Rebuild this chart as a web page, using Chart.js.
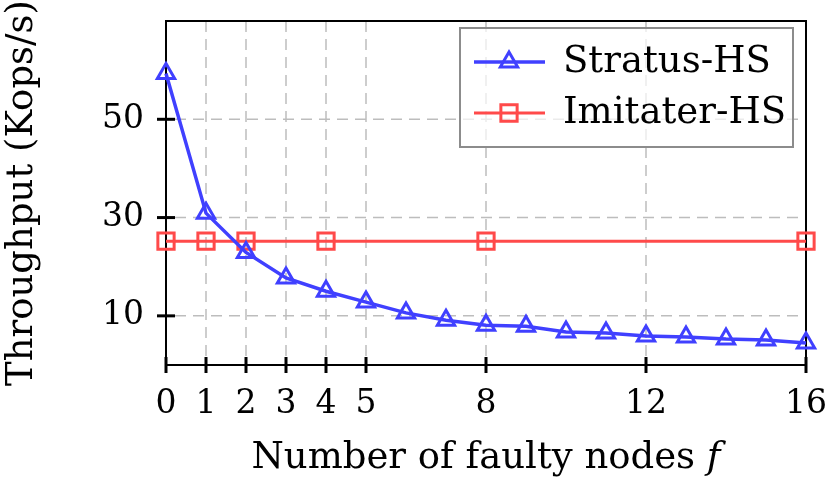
<!DOCTYPE html>
<html>
<head>
<meta charset="utf-8">
<script src="https://cdn.jsdelivr.net/npm/chart.js@4"></script>
<style>
    html, body { margin: 0; padding: 0; background: #fff; }
    #wrap { width: 825px; height: 480px; }
</style>
</head>
<body>
<div id="wrap"><canvas id="chart"></canvas></div>
<script>
// values
const faultyNodes = [0, 1, 2, 3, 4, 5, 6, 7, 8, 9, 10, 11, 12, 13, 14, 15, 16];
const stratusHS = [59.3, 30.9, 22.9, 17.7, 15.0, 12.8, 10.6, 9.1, 8.1, 7.9, 6.7, 6.5, 5.9, 5.7, 5.3, 5.1, 4.5];
const imitaterNodes = [0, 1, 2, 4, 8, 16];
const imitaterHS = [25.2, 25.2, 25.2, 25.2, 25.2, 25.2];
const xTicks = [0, 1, 2, 3, 4, 5, 8, 12, 16];
const yTicks = [10, 30, 50];

const FONT = 'DejaVu Serif';
const FSIZE = 37;
const TICKSIZE = 33;
const BLUE = '#4040ff';
const RED = '#ff4a4a';

function toPoints(xs, ys) {
    return xs.map((x, i) => ({ x: x, y: ys[i] }));
}

function markerPath(ctx, style, x, y, r) {
    ctx.beginPath();
    if (style === 'triangle') {
        ctx.moveTo(x, y - r);
        ctx.lineTo(x + r * Math.sin(Math.PI / 3), y + r / 2);
        ctx.lineTo(x - r * Math.sin(Math.PI / 3), y + r / 2);
        ctx.closePath();
    } else {
        const s = r * Math.SQRT1_2;
        ctx.rect(x - s, y - s, 2 * s, 2 * s);
    }
}

// grid, frame and crossing tick marks
const framePlugin = {
    id: 'frame',
    beforeDatasetsDraw(chart) {
        const { ctx, chartArea: a, scales } = chart;
        ctx.save();
        ctx.strokeStyle = '#bdbdbd';
        ctx.lineWidth = 1.5;
        ctx.setLineDash([11, 7]);
        scales.x.ticks.forEach(t => {
            if (t.value === 0 || t.value === 16) return;
            const px = scales.x.getPixelForValue(t.value);
            ctx.beginPath();
            ctx.moveTo(px, a.top);
            ctx.lineTo(px, a.bottom - 9);
            ctx.stroke();
        });
        scales.y.ticks.forEach(t => {
            const py = scales.y.getPixelForValue(t.value);
            ctx.beginPath();
            ctx.moveTo(a.left + 9, py);
            ctx.lineTo(a.right, py);
            ctx.stroke();
        });
        ctx.setLineDash([]);
        ctx.strokeStyle = '#000';
        ctx.lineWidth = 2;
        ctx.strokeRect(a.left, a.top, a.right - a.left, a.bottom - a.top);
        ctx.lineWidth = 3;
        scales.x.ticks.forEach(t => {
            const px = scales.x.getPixelForValue(t.value);
            ctx.beginPath();
            ctx.moveTo(px, a.bottom - 8);
            ctx.lineTo(px, a.bottom + 8);
            ctx.stroke();
        });
        scales.y.ticks.forEach(t => {
            const py = scales.y.getPixelForValue(t.value);
            ctx.beginPath();
            ctx.moveTo(a.left - 9, py);
            ctx.lineTo(a.left + 9, py);
            ctx.stroke();
        });
        ctx.restore();
    },
    afterDraw(chart) {
        const { ctx, chartArea: a } = chart;
        ctx.save();
        // x axis title with italic f
        const normal = FSIZE + 'px "' + FONT + '"';
        const italic = 'italic ' + normal;
        const t1 = 'Number of faulty nodes ';
        const t2 = 'f';
        ctx.font = normal;
        const w1 = ctx.measureText(t1).width;
        ctx.font = italic;
        const w2 = ctx.measureText(t2).width;
        let x0 = (a.left + a.right) / 2 - (w1 + w2) / 2;
        ctx.fillStyle = '#000';
        ctx.textBaseline = 'alphabetic';
        ctx.textAlign = 'left';
        ctx.font = normal;
        ctx.fillText(t1, x0, 468);
        ctx.font = italic;
        ctx.fillText(t2, x0 + w1, 468);

        // legend box
        const bx = a.right - 346, by = a.top + 7, bw = 333, bh = 119;
        ctx.fillStyle = 'rgba(255,255,255,0.7)';
        ctx.fillRect(bx, by, bw, bh);
        ctx.strokeStyle = '#8c8c8c';
        ctx.lineWidth = 2;
        ctx.strokeRect(bx, by, bw, bh);
        chart.data.datasets.forEach((ds, i) => {
            const cy = by + 34 + i * 51;
            ctx.strokeStyle = ds.borderColor;
            ctx.lineWidth = ds.borderWidth;
            ctx.beginPath();
            ctx.moveTo(bx + 14, cy);
            ctx.lineTo(bx + 85, cy);
            ctx.stroke();
            ctx.lineWidth = ds.pointBorderWidth;
            markerPath(ctx, ds.pointStyle, bx + 49, cy, ds.pointRadius);
            ctx.stroke();
            ctx.fillStyle = '#000';
            ctx.font = normal;
            ctx.textBaseline = 'middle';
            ctx.fillText(ds.label, bx + 103, cy);
        });
        ctx.restore();
    }
};

const ctx = document.getElementById('chart').getContext('2d');
new Chart(ctx, {
    type: 'line',
    data: {
        datasets: [
            {
                label: 'Stratus-HS',
                data: toPoints(faultyNodes, stratusHS),
                borderColor: BLUE,
                borderWidth: 3.5,
                pointStyle: 'triangle',
                pointRadius: 10,
                pointBorderWidth: 3,
                pointBorderColor: BLUE,
                pointBackgroundColor: 'rgba(0,0,0,0)',
                tension: 0,
                clip: 20,
            },
            {
                label: 'Imitater-HS',
                data: toPoints(imitaterNodes, imitaterHS),
                borderColor: RED,
                borderWidth: 3,
                pointStyle: 'rect',
                pointRadius: 11.5,
                pointBorderWidth: 3,
                pointBorderColor: RED,
                pointBackgroundColor: 'rgba(0,0,0,0)',
                tension: 0,
                clip: 20,
            },
        ],
    },
    options: {
        responsive: true,
        maintainAspectRatio: false,
        animation: false,
        layout: { padding: { top: 21, right: 19, left: 0, bottom: 0 } },
        plugins: { legend: { display: false }, tooltip: { enabled: false } },
        scales: {
            x: {
                type: 'linear',
                min: 0,
                max: 16,
                afterBuildTicks: s => { s.ticks = xTicks.map(v => ({ value: v })); },
                afterFit: s => { s.height = 115; s.paddingLeft = 0; s.paddingRight = 0; },
                grid: { display: false, drawTicks: false },
                border: { display: false },
                ticks: {
                    color: '#000',
                    padding: 20,
                    autoSkip: false,
                    maxRotation: 0,
                    font: { family: FONT, size: TICKSIZE },
                },
            },
            y: {
                type: 'linear',
                min: 0,
                max: 70,
                afterBuildTicks: s => { s.ticks = yTicks.map(v => ({ value: v })); },
                afterFit: s => { s.width = 166; s.paddingTop = 0; s.paddingBottom = 0; },
                grid: { display: false, drawTicks: false },
                border: { display: false },
                ticks: {
                    color: '#000',
                    padding: 22,
                    font: { family: FONT, size: TICKSIZE },
                },
                title: {
                    display: true,
                    text: 'Throughput (Kops/s)',
                    color: '#000',
                    padding: { top: 0, bottom: 0 },
                    font: { family: FONT, size: FSIZE },
                },
            },
        },
    },
    plugins: [framePlugin],
});
</script>
</body>
</html>
